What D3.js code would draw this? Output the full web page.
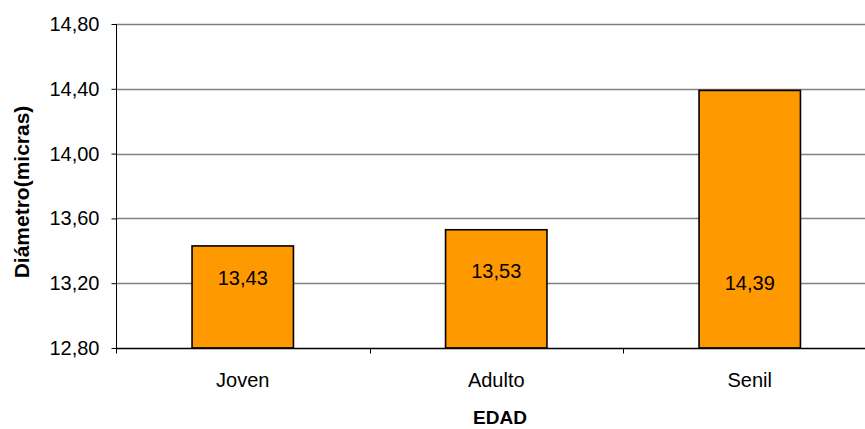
<!DOCTYPE html>
<html><head><meta charset="utf-8">
<script src="https://cdn.jsdelivr.net/npm/d3@7"></script>
<style>body{margin:0;background:#fff}svg{display:block}text{font-family:"Liberation Sans",Arial,sans-serif}</style>
</head><body><svg id="c" width="865" height="429"></svg>
<script>
const categories = ["Joven", "Adulto", "Senil"];
const values = [13.43, 13.53, 14.39];
const yTicks = [12.8, 13.2, 13.6, 14.0, 14.4, 14.8];
const yTitle = "Diámetro(micras)";
const xTitle = "EDAD";

const svg = d3.select("#c");
const L = 116, R = 876.5, T = 24, B = 348;
const x = d3.scaleBand().domain(categories).range([L, R]).paddingInner(0.6).paddingOuter(0.3);
const xb = d3.scaleBand().domain(categories).range([L, R]);
const y = d3.scaleLinear().domain([12.8, 14.8]).range([B, T]);
const fmt = v => d3.format(".2f")(v).replace(".", ",");

// gridlines
svg.append("g").selectAll("line").data(yTicks.slice(1)).join("line")
  .attr("x1", L).attr("x2", 865).attr("y1", d => Math.round(y(d)) + 0.5).attr("y2", d => Math.round(y(d)) + 0.5)
  .attr("stroke", "#808080").attr("stroke-width", 1.3);

// y axis
const ya = svg.append("g").attr("transform", `translate(${L + 0.5},0)`)
  .call(d3.axisLeft(y).tickValues(yTicks).tickFormat(fmt).tickSize(5).tickPadding(12));
ya.select(".domain").attr("stroke", "#000").attr("d", `M0,${T}V${B + 0.5}`);
ya.selectAll(".tick line").attr("stroke", "#000");
ya.selectAll(".tick text").attr("font-size", 20).attr("fill", "#000").attr("font-family", "Liberation Sans, Arial, sans-serif");

// bars
svg.append("g").selectAll("rect").data(values).join("rect")
  .attr("x", (d, i) => x(categories[i])).attr("width", x.bandwidth())
  .attr("y", d => y(d)).attr("height", d => B - y(d))
  .attr("fill", "#FF9900").attr("stroke", "#000").attr("stroke-width", 1.6);

// x axis
const xa = svg.append("g").attr("transform", `translate(0,${B + 0.5})`);
xa.append("line").attr("x1", L).attr("x2", 865).attr("stroke", "#000").attr("stroke-width", 1.3);
xa.selectAll(".t").data(categories).join("line").attr("class", "t")
  .attr("x1", d => Math.round(xb(d)) + 0.5).attr("x2", d => Math.round(xb(d)) + 0.5)
  .attr("y1", 0).attr("y2", 5).attr("stroke", "#000");
xa.selectAll("text").data(categories).join("text")
  .attr("x", d => xb(d) + xb.bandwidth() / 2).attr("y", 38)
  .attr("text-anchor", "middle").attr("font-size", 20).attr("fill", "#000").text(d => d);

// data labels
const labelBase = [13.19, 13.232, 13.158];
svg.append("g").selectAll("text").data(values).join("text")
  .attr("x", (d, i) => x(categories[i]) + x.bandwidth() / 2)
  .attr("y", (d, i) => y(labelBase[i]))
  .attr("text-anchor", "middle").attr("font-size", 20).attr("fill", "#000").text(fmt);

// titles
svg.append("text").attr("x", 500).attr("y", 424).attr("text-anchor", "middle")
  .attr("font-size", 19).attr("font-weight", "bold").text(xTitle);
svg.append("text").attr("transform", "translate(29,192) rotate(-90)").attr("text-anchor", "middle")
  .attr("font-size", 21).attr("font-weight", "bold").text(yTitle);
</script></body></html>
